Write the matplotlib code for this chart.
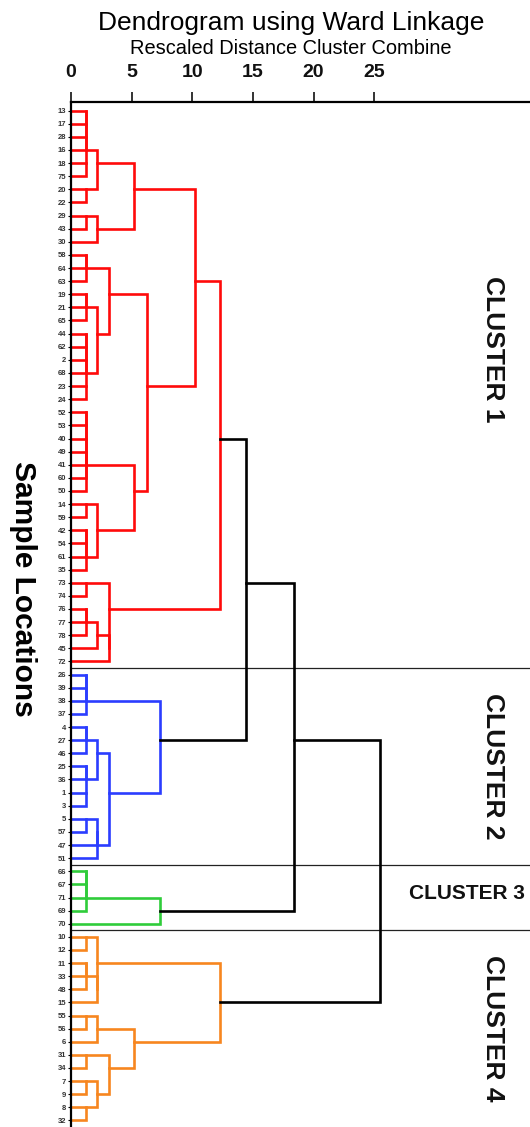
#!/usr/bin/env python3
"""
Ward-linkage dendrogram of the sample locations (SPSS-style rescaled distance),
coloured by the four clusters.
"""
import matplotlib
matplotlib.use("Agg")
import matplotlib.pyplot as plt
from matplotlib import font_manager

# ── Data ───────────────────────────────────────────────────────────────

# leaf order, top to bottom
LEAVES = [
    "13", "17", "28", "16", "18", "75", "20", "22", "29", "43", "30",
    "58", "64", "63", "19", "21", "65", "44", "62", "2", "68", "23", "24",
    "52", "53", "40", "49", "41", "60", "50", "14", "59", "42", "54", "61", "35",
    "73", "74", "76", "77", "78", "45", "72",
    "26", "39", "38", "37", "4", "27", "46", "25", "36", "1", "3", "5", "57", "47", "51",
    "66", "67", "71", "69", "70",
    "10", "12", "11", "33", "48", "15", "55", "56", "6", "31", "34", "7", "9", "8", "32",
]

# merges: (node, left, right, rescaled distance)
CLUSTER1_MERGES = [
    ("a1", "13", "17", 1.2), ("a2", "a1", "28", 1.2), ("a3", "a2", "16", 1.2),
    ("a4", "18", "75", 1.2), ("a5", "a3", "a4", 1.2), ("a6", "20", "22", 1.2),
    ("a7", "a5", "a6", 2.15), ("a8", "29", "43", 1.2), ("a9", "a8", "30", 2.15),
    ("a10", "a7", "a9", 5.2),
    ("a11", "58", "64", 1.2), ("a12", "a11", "63", 1.2),
    ("a13", "19", "21", 1.2), ("a14", "a13", "65", 1.2),
    ("a15", "44", "62", 1.2), ("a16", "a15", "2", 1.2), ("a17", "a16", "68", 1.2),
    ("a18", "23", "24", 1.2), ("a19", "a17", "a18", 1.2),
    ("a20", "a14", "a19", 2.15), ("a21", "a12", "a20", 3.15),
    ("a22", "52", "53", 1.2), ("a23", "a22", "40", 1.2), ("a24", "49", "41", 1.2),
    ("a25", "a24", "60", 1.2), ("a26", "a23", "a25", 1.2), ("a27", "a26", "50", 1.2),
    ("a28", "14", "59", 1.2), ("a29", "42", "54", 1.2), ("a30", "a29", "61", 1.2),
    ("a31", "a30", "35", 1.2), ("a32", "a28", "a31", 2.15),
    ("a33", "a27", "a32", 5.2), ("a34", "a21", "a33", 6.3),
    ("a35", "a10", "a34", 10.2),
    ("a36", "73", "74", 1.2), ("a37", "76", "77", 1.2), ("a38", "a37", "78", 1.2),
    ("a39", "a38", "45", 2.15), ("a40", "a39", "72", 3.15), ("a41", "a36", "a40", 3.15),
    ("C1", "a35", "a41", 12.3),
]

CLUSTER2_MERGES = [
    ("b1", "26", "39", 1.2), ("b2", "b1", "38", 1.2), ("b3", "b2", "37", 1.2),
    ("b4", "4", "27", 1.2), ("b5", "b4", "46", 1.2),
    ("b6", "25", "36", 1.2), ("b7", "1", "3", 1.2), ("b8", "b6", "b7", 1.2),
    ("b9", "b5", "b8", 2.15),
    ("b10", "5", "57", 1.2), ("b11", "b10", "47", 2.15), ("b12", "b11", "51", 2.15),
    ("b13", "b9", "b12", 3.15),
    ("C2", "b3", "b13", 7.3),
]

CLUSTER3_MERGES = [
    ("c1", "66", "67", 1.2), ("c2", "c1", "71", 1.2), ("c3", "c2", "69", 1.2),
    ("C3", "c3", "70", 7.3),
]

CLUSTER4_MERGES = [
    ("d1", "10", "12", 1.2), ("d2", "11", "33", 1.2), ("d3", "d2", "48", 1.2),
    ("d4", "d3", "15", 2.15), ("d5", "d1", "d4", 2.15),
    ("d6", "55", "56", 1.2), ("d7", "d6", "6", 2.15),
    ("d8", "31", "34", 1.2), ("d9", "7", "9", 1.2), ("d10", "8", "32", 1.2),
    ("d11", "d9", "d10", 2.15), ("d12", "d8", "d11", 3.15),
    ("d13", "d7", "d12", 5.2),
    ("C4", "d5", "d13", 12.3),
]

TOP_MERGES = [
    ("t1", "C1", "C2", 14.4),
    ("t2", "t1", "C3", 18.4),
    ("t3", "t2", "C4", 25.5),
]

CLUSTER_NAMES = ["CLUSTER 1", "CLUSTER 2", "CLUSTER 3", "CLUSTER 4"]
CLUSTER_SIZES = [43, 15, 5, 15]
X_TICKS = [0, 5, 10, 15, 20, 25]

# ── Style ──────────────────────────────────────────────────────────────

CLUSTER_COLORS = ["#ff0a0a", "#2b3dff", "#2fcc3a", "#f7861f"]
LINK_COLOR = "#000000"
LINE_W = 1.9
FONT = ["Liberation Sans", "DejaVu Sans"]

plt.rcParams["font.family"] = FONT

available = {f.name for f in font_manager.fontManager.ttflist}
if "Liberation Sans Narrow" in available:
    NARROW = ["Liberation Sans Narrow", "Liberation Sans"]
    ROT_SIZE, FLAT_SIZE = 22, 18
else:
    NARROW = FONT
    ROT_SIZE, FLAT_SIZE = 19, 15

W, H = 530, 1127

fig = plt.figure(figsize=(W / 100, H / 100), dpi=100)
fig.patch.set_facecolor("white")
ax = fig.add_axes([71 / W, 0, 1 - 71 / W, 1 - 102 / H])

# ── Dendrogram ─────────────────────────────────────────────────────────

pos = {lab: i for i, lab in enumerate(LEAVES)}
height = {lab: 0.0 for lab in LEAVES}


def draw_merges(merges, color):
    for node, left, right, h in merges:
        y1, y2 = pos[left], pos[right]
        ax.plot([height[left], h, h, height[right]], [y1, y1, y2, y2],
                color=color, lw=LINE_W, solid_joinstyle="miter",
                solid_capstyle="projecting", zorder=3)
        pos[node] = (y1 + y2) // 2
        height[node] = h


for merges, col in zip([CLUSTER1_MERGES, CLUSTER2_MERGES, CLUSTER3_MERGES, CLUSTER4_MERGES],
                       CLUSTER_COLORS):
    draw_merges(merges, col)
draw_merges(TOP_MERGES, LINK_COLOR)

# cluster separators and labels
start = 0
label_shift = [-2.8, 0, 0, 0]
for i, (name, size) in enumerate(zip(CLUSTER_NAMES, CLUSTER_SIZES)):
    end = start + size - 1
    if i > 0:
        ax.axhline(start - 0.5, color="#222222", lw=0.9, zorder=2)
    mid = (start + end) / 2 + label_shift[i]
    if size > 8:
        ax.text(34.75, mid, name, rotation=-90, ha="center", va="center",
                fontsize=ROT_SIZE, fontweight="bold", family=NARROW, color="#111111")
    else:
        ax.text(32.6, mid - 0.3, name, ha="center", va="center",
                fontsize=FLAT_SIZE, fontweight="bold", family=NARROW, color="#111111")
    start = end + 1

# ── Axes formatting ────────────────────────────────────────────────────

ax.set_xlim(0, (W - 71) / 12.13)
ax.set_ylim(len(LEAVES) - 0.5, -0.66)

ax.xaxis.tick_top()
ax.set_xticks(X_TICKS)
ax.set_xticklabels([str(t) for t in X_TICKS], fontsize=14, fontweight="bold")
ax.tick_params(axis="x", direction="out", length=7, width=1.2, pad=8, colors="#111111")

ax.set_yticks(range(len(LEAVES)))
ax.set_yticklabels(LEAVES, fontsize=5.5, fontweight="bold", color="#333333")
ax.tick_params(axis="y", direction="out", length=2.5, width=0.8, pad=1)

for side in ("right", "bottom"):
    ax.spines[side].set_visible(False)
for side in ("top", "left"):
    ax.spines[side].set_linewidth(1.6)
    ax.spines[side].set_zorder(5)

fig.text(291 / W, 1 - 23 / H, "Dendrogram using Ward Linkage",
         fontsize=19, ha="center", va="center")
fig.text(291 / W, 1 - 49 / H, "Rescaled Distance Cluster Combine",
         fontsize=14.4, ha="center", va="center")
fig.text(23 / W, 1 - 589 / H, "Sample Locations", rotation=-90,
         fontsize=21.5, fontweight="bold", ha="center", va="center")

fig.savefig("out.png", dpi=100)
